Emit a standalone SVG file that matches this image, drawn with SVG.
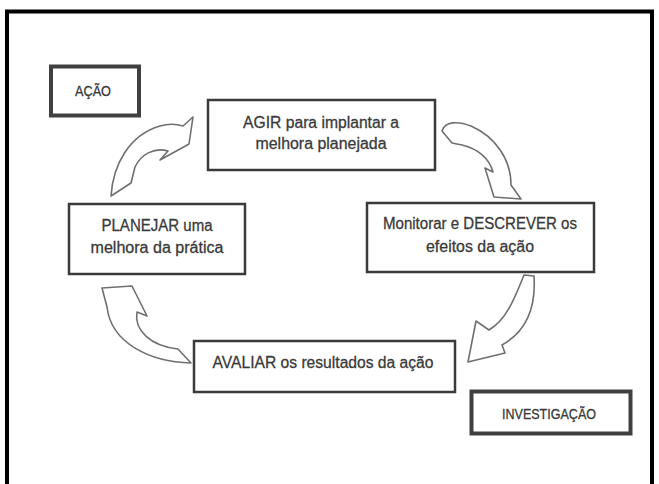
<svg xmlns="http://www.w3.org/2000/svg" width="659" height="484" viewBox="0 0 659 484">
<style>
.frame{fill:none;stroke:#000;stroke-width:4}
.box{fill:#fff;stroke:#3a3a3a;stroke-width:2.5}
.tag{fill:#fff;stroke:#404040;stroke-width:4}
.t{font-family:"Liberation Sans",Arial,sans-serif;font-size:16px;fill:#3a3a3a;stroke:#3a3a3a;stroke-width:0.3;text-anchor:middle}
.ts{font-family:"Liberation Sans",Arial,sans-serif;font-size:14px;fill:#3a3a3a;stroke:#3a3a3a;stroke-width:0.3;text-anchor:middle}
.arr{fill:#fff;stroke:#6f6f6f;stroke-width:1.6;stroke-linejoin:round}
</style>
<rect width="659" height="484" fill="#fff"/>
<path class="frame" d="M7,484 V11.5 H652 V484"/>

<g id="acao">
<rect class="tag" x="51" y="66.5" width="88" height="49"/>
<text class="ts" x="93" y="95.5" textLength="36" lengthAdjust="spacingAndGlyphs">AÇÃO</text>
</g>

<g id="agir">
<rect class="box" x="208" y="100" width="227" height="70"/>
<text class="t" x="321" y="127.5" textLength="156" lengthAdjust="spacingAndGlyphs">AGIR para implantar a</text>
<text class="t" x="321" y="149" textLength="131" lengthAdjust="spacingAndGlyphs">melhora planejada</text>
</g>

<g id="planejar">
<rect class="box" x="69" y="204" width="176" height="70"/>
<text class="t" x="157" y="230.5" textLength="111" lengthAdjust="spacingAndGlyphs">PLANEJAR uma</text>
<text class="t" x="157" y="252.5" textLength="133" lengthAdjust="spacingAndGlyphs">melhora da prática</text>
</g>

<g id="monitorar">
<rect class="box" x="367" y="203" width="227" height="69"/>
<text class="t" x="480" y="228.5" textLength="194" lengthAdjust="spacingAndGlyphs">Monitorar e DESCREVER os</text>
<text class="t" x="480" y="251.5" textLength="108" lengthAdjust="spacingAndGlyphs">efeitos da ação</text>
</g>

<g id="avaliar">
<rect class="box" x="194" y="341" width="261" height="51"/>
<text class="t" x="323" y="367.5" textLength="221" lengthAdjust="spacingAndGlyphs">AVALIAR os resultados da ação</text>
</g>

<g id="investigacao">
<rect class="tag" x="471.5" y="391.5" width="159" height="42"/>
<text class="ts" x="549" y="418.5" textLength="94" lengthAdjust="spacingAndGlyphs">INVESTIGAÇÃO</text>
</g>

<g id="connectors">
<path class="arr" d="M111,196 C113,165 129,135 160,126 C170,123 177,124 183,126 L193,117 L189,144 L160,160 L168,151 C155,147 141,154 135,167 L131,183 Z"/>
<path class="arr" d="M442,131 C445,121 458,121 471,126 C496,137 511,160 511,185 L521,199 L494,197 L485,168 L493,172 C489,158 478,149 462,145 L452,143 Z"/>
<path class="arr" d="M524,275 L534,276 C536,306 527,331 502,345 L505,353 L468,362 L476,321 L489,330 C506,320 514,300 524,275 Z"/>
<path class="arr" d="M102,288 L132,286 L147,316 L137,312 C134,330 150,346 178,349 L191,363 C150,362 111,343 107,307 Z"/>
</g>
</svg>
